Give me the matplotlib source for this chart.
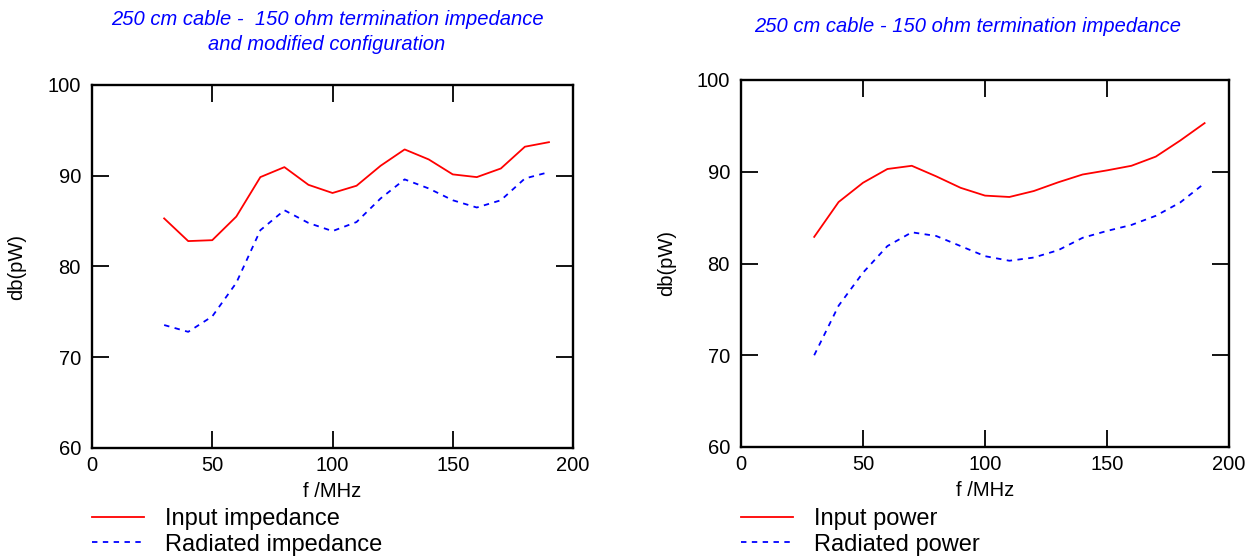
import numpy as np
import matplotlib
matplotlib.use('Agg')
import matplotlib.pyplot as plt

plt.rcParams['font.family'] = ['Liberation Sans', 'DejaVu Sans']

# frequency points, MHz
freq = [30, 40, 50, 60, 70, 80, 90, 100, 110, 120, 130, 140, 150, 160, 170, 180, 190]

# left: modified configuration
input_imp = [85.3, 82.8, 82.9, 85.5, 89.85, 90.95, 89.0, 88.1, 88.9, 91.1,
             92.9, 91.8, 90.15, 89.85, 90.8, 93.2, 93.7]
radiated_imp = [73.55, 72.8, 74.5, 78.2, 84.0, 86.2, 84.8, 83.9, 84.9, 87.5,
                89.6, 88.6, 87.3, 86.5, 87.3, 89.7, 90.4]

# right: plain 150 ohm termination
input_pow = [82.9, 86.7, 88.8, 90.3, 90.65, 89.5, 88.25, 87.4, 87.25, 87.9,
             88.85, 89.7, 90.15, 90.65, 91.65, 93.4, 95.3]
radiated_pow = [70.0, 75.4, 79.0, 81.9, 83.4, 83.0, 81.9, 80.8, 80.3, 80.65,
                81.45, 82.8, 83.55, 84.2, 85.2, 86.65, 88.75]

xticks = [0, 50, 100, 150, 200]
yticks = [60, 70, 80, 90, 100]

W, H = 1260, 560
fig = plt.figure(figsize=(12.6, 5.6), dpi=100)


def setup(ax):
    ax.set_xlim(0, 200)
    ax.set_ylim(60, 100)
    ax.set_xticks(xticks)
    ax.set_yticks(yticks)
    ax.tick_params(direction='in', length=12, width=1.3, top=True, right=True,
                   labelsize=14.5)
    ax.tick_params(axis='x', pad=6)
    ax.tick_params(axis='y', pad=8)
    for s in ax.spines.values():
        s.set_linewidth(1.7)
    ax.set_xlabel('f /MHz', fontsize=14.5, labelpad=5)
    ax.set_ylabel('db(pW)', fontsize=14.5)


def legend(ax, x):
    ax.legend(loc='upper left', bbox_to_anchor=(x / W, 1 - 508 / H),
              bbox_transform=fig.transFigure, frameon=False, fontsize=17,
              handlelength=2.2, handletextpad=0.9, borderpad=0, borderaxespad=0,
              labelspacing=0.15)


# left panel
ax1 = fig.add_axes([92 / W, 1 - 448 / H, 481 / W, 363 / H])
ax1.plot(freq, input_imp, color='#ff0000', lw=1.3, label='Input impedance')
ax1.plot(freq, radiated_imp, color='#0000ff', lw=1.3, ls=(0, (3, 3)),
         label='Radiated impedance')
setup(ax1)
ax1.yaxis.set_label_coords((26 - 92) / 481, 0.5)
legend(ax1, 92)
fig.text(327 / W, 1 - 32 / H,
         '250 cm cable -  150 ohm termination impedance\nand modified configuration',
         ha='center', va='center', color='#0000ff', style='italic',
         fontsize=14.5, linespacing=1.45)

# right panel
ax2 = fig.add_axes([741 / W, 1 - 447 / H, 488 / W, 367 / H])
ax2.plot(freq, input_pow, color='#ff0000', lw=1.3, label='Input power')
ax2.plot(freq, radiated_pow, color='#0000ff', lw=1.3, ls=(0, (3, 3)),
         label='Radiated power')
setup(ax2)
ax2.yaxis.set_label_coords((676 - 741) / 488, 0.5)
legend(ax2, 741)
fig.text(968 / W, 1 - 26 / H, '250 cm cable - 150 ohm termination impedance',
         ha='center', va='center', color='#0000ff', style='italic',
         fontsize=14.5)

fig.savefig('out.png', dpi=100)
